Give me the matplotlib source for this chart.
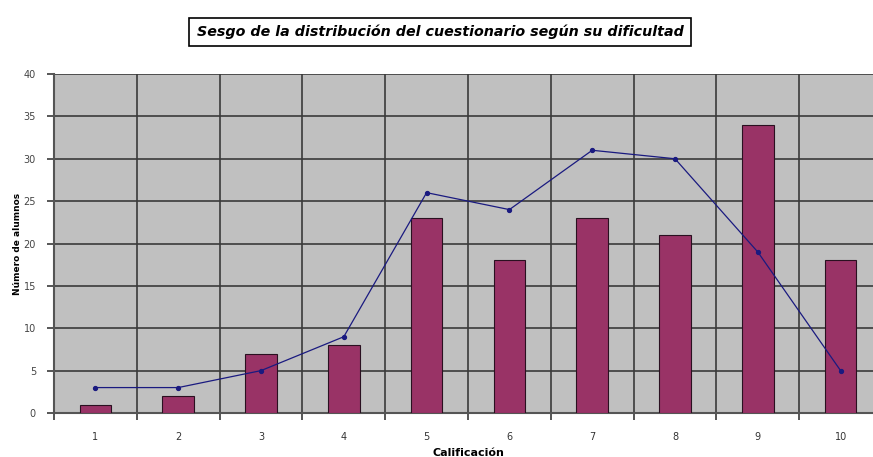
import numpy as np
import matplotlib
matplotlib.use("Agg")
import matplotlib.pyplot as plt

# calificaciones y número de alumnos
calificaciones = [1, 2, 3, 4, 5, 6, 7, 8, 9, 10]
alumnos = [1, 2, 7, 8, 23, 18, 23, 21, 34, 18]
tendencia = [3, 3, 5, 9, 26, 24, 31, 30, 19, 5]
yticks = [0, 5, 10, 15, 20, 25, 30, 35, 40]

fig = plt.figure(figsize=(8.73, 4.57), dpi=100)
W, H = 873, 457
ax = fig.add_axes([54 / W, 44 / H, 828 / W, 339 / H])
ax.set_facecolor("#c0c0c0")

x = np.arange(len(calificaciones))
ax.bar(x, alumnos, width=0.38, color="#993366", edgecolor="#2a1020", linewidth=0.8, zorder=3)
ax.plot(x, tendencia, color="#1a1a80", lw=0.9, marker="o", markersize=2.8, zorder=4)

ax.set_xlim(-0.5, len(x) - 0.5)
ax.set_ylim(0, 40)
ax.set_yticks(yticks)
ax.set_yticklabels([str(v) for v in yticks])
ax.set_xticks(x)
ax.set_xticklabels([str(c) for c in calificaciones])
ax.set_xticks(np.arange(-0.5, len(x)), minor=True)

ax.grid(axis="y", color="#3a3a3a", lw=1.2, zorder=1)
ax.grid(axis="x", which="minor", color="#3a3a3a", lw=1.2, zorder=1)
ax.set_axisbelow(True)

ax.tick_params(axis="x", which="major", length=0, labelsize=7, colors="#333333", pad=14)
ax.tick_params(axis="x", which="minor", length=5, width=1.2, color="#3a3a3a")
ax.tick_params(axis="y", length=5, width=1.2, color="#3a3a3a", labelsize=7,
               labelcolor="#444444", pad=8)

for side in ["top", "right"]:
    ax.spines[side].set_visible(False)
ax.spines["left"].set_color("#555555")
ax.spines["left"].set_linewidth(1.5)
ax.spines["bottom"].set_color("#555555")
ax.spines["bottom"].set_linewidth(1.5)

ax.set_ylabel("Número de alumnos", fontsize=6.5, fontweight="bold", labelpad=1)
ax.set_xlabel("Calificación", fontsize=8, fontweight="bold", labelpad=4)

fig.text(440 / W, 1 - 32 / H, "Sesgo de la distribución del cuestionario según su dificultad",
         ha="center", va="center", fontsize=10.3, fontweight="bold", style="italic",
         family="DejaVu Sans",
         bbox=dict(boxstyle="square,pad=0.5", facecolor="white", edgecolor="black", linewidth=1.2))

fig.savefig("out.png", dpi=100)
